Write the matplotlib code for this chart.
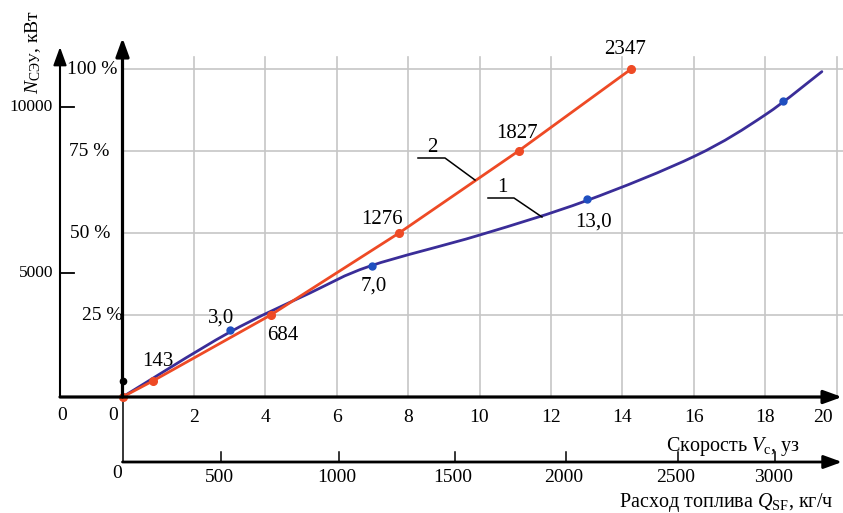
import matplotlib
matplotlib.use("Agg")
import matplotlib.pyplot as plt
from matplotlib.path import Path
from matplotlib.patches import PathPatch

plt.rcParams['font.family'] = ['Liberation Serif', 'DejaVu Serif']
plt.rcParams['mathtext.fontset'] = 'custom'
plt.rcParams['mathtext.rm'] = 'Liberation Serif'
plt.rcParams['mathtext.it'] = 'Liberation Serif:italic'
plt.rcParams['mathtext.bf'] = 'Liberation Serif:bold'

# ---------------- data ----------------
speed_ticks = [2, 4, 6, 8, 10, 12, 14, 16, 18, 20]
load_levels = [25, 50, 75, 100]
load_labels = ['25 %', '50 %', '75 %', '100 %']
kw_ticks = [5000, 10000]
fuel_ticks = [0, 500, 1000, 1500, 2000, 2500, 3000]
fuel_tick_speed = [0, 2.76, 6.06, 9.31, 12.42, 15.56, 18.28]   # where each fuel tick sits on the speed scale

# curve 1: load (%) vs speed (knots)
curve1_speed = [0, 2.96, 5.25, 6.93, 10.01, 12.98, 16.04, 18.0, 19.59]
curve1_load = [0, 19.5, 31.7, 39.9, 49.4, 59.8, 73.5, 86.0, 99.2]
points1_speed = [3.0, 7.0, 13.0, 18.5]
points1_load = [20.4, 40.0, 60.4, 90.3]
points1_labels = ['3,0', '7,0', '13,0', '']

# curve 2: load (%) vs fuel consumption (kg/h)
curve2_fuel = [0, 143, 684, 1276, 1827, 2347]
curve2_load = [0, 5, 25, 50, 75, 100]
curve2_labels = ['', '143', '684', '1276', '1827', '2347']

# ---------------- scales ----------------
FUEL_TO_KN = 14.25 / 2347.0          # fuel (kg/h) -> position on speed scale
KW_AT_ZERO = 1265.0                  # kW value at the 0 % line
KW_PER_PCT = 98.8                    # kW per 1 %
PX_PER_KN = 35.7
PX_PER_PCT = 3.28

def px_x(dx):
    return dx / PX_PER_KN

def px_y(dy):
    return dy / PX_PER_PCT

RED = '#ee4a25'
BLUE = '#3a2d98'
BLUE_DOT = '#1f4fc0'
GRID = '#c6c6c6'

fig = plt.figure(figsize=(8.43, 5.13), dpi=100)
ax = fig.add_axes([0, 0, 1, 1])
ax.set_xlim(-122.5 / PX_PER_KN, (843 - 122.5) / PX_PER_KN)
ax.set_ylim((397 - 513) / PX_PER_PCT, 397 / PX_PER_PCT)
ax.axis('off')

x_outer = -px_x(62.5)
x_right = (843 - 122.5) / PX_PER_KN
y_fuel = -px_y(65)

# grid
for s in speed_ticks:
    ax.plot([s, s], [0, px_y(340)], color=GRID, lw=1.2, zorder=1)
for lv in load_levels:
    ax.plot([0, x_right], [lv, lv], color=GRID, lw=1.2, zorder=1)

# axes with arrows
def arrow(x0, y0, x1, y1, lw):
    ax.annotate('', xy=(x1, y1), xytext=(x0, y0),
                arrowprops=dict(arrowstyle='-|>,head_length=0.55,head_width=0.2',
                                lw=lw, color='black', shrinkA=0, shrinkB=0,
                                mutation_scale=20), zorder=5)

arrow(0, 0, 0, px_y(359), 2.3)                 # main vertical
arrow(x_outer, 0, x_outer, px_y(350), 1.5)     # outer kW axis
arrow(x_outer, 0, x_right - px_x(1), 0, 2.3)   # speed axis
arrow(0, y_fuel, x_right - px_x(1), y_fuel, 2.0)  # fuel axis
ax.plot([0, 0], [y_fuel, 0], color='black', lw=1.1, zorder=4)

# speed tick labels
ty = -px_y(21)
for s in speed_ticks:
    if s == 20:
        ax.text(s - px_x(4), ty, str(s), ha='right', va='center', fontsize=14)
    else:
        ax.text(s, ty, str(s), ha='center', va='center', fontsize=14)
ax.text(-px_x(9), ty + px_y(3), '0', ha='center', va='center', fontsize=14)
ax.text(x_outer + px_x(2), ty + px_y(3), '0', ha='center', va='center', fontsize=14)

# fuel ticks
for f, pos in zip(fuel_ticks, fuel_tick_speed):
    if f != 0:
        ax.plot([pos, pos], [y_fuel, y_fuel + px_y(10)], color='black', lw=1.1, zorder=4)
        ax.text(pos - px_x(2), y_fuel - px_y(15), str(f), ha='center', va='center', fontsize=14)
    else:
        ax.text(pos - px_x(5), y_fuel - px_y(12), str(f), ha='center', va='center', fontsize=14)

# load labels
load_dx = {25: 0.0, 50: 12, 75: 13, 100: 5}
for lv, lab in zip(load_levels, load_labels):
    ax.text(-px_x(load_dx[lv]), lv, lab, ha='right', va='center', fontsize=14, zorder=6)

# kW ticks on the outer axis
for kw in kw_ticks:
    yy = (kw - KW_AT_ZERO) / KW_PER_PCT
    ax.plot([x_outer, x_outer + px_x(14)], [yy, yy], color='black', lw=1.3, zorder=4)
    ax.text(x_outer - px_x(7), yy, str(kw), ha='right', va='center', fontsize=12.5)

# axis titles
ax.text(x_outer - px_x(27), px_y(345), r'$N_{\mathrm{СЭУ}}$, кВт', rotation=90,
        ha='center', va='center', fontsize=14)
ax.text(px_x(800 - 122.5), -px_y(50), r'Скорость $V_{\mathrm{с}}$, уз',
        ha='right', va='center', fontsize=14.5)
ax.text(px_x(833 - 122.5), -px_y(106), r'Расход топлива $Q_{\mathrm{SF}}$, кг/ч',
        ha='right', va='center', fontsize=14.5)

# curve 1 drawn as a smooth Bezier path through the traced points
def smooth_path(xs, ys):
    pts = list(zip(xs, ys))
    verts = [pts[0]]
    codes = [Path.MOVETO]
    n = len(pts)
    for i in range(n - 1):
        p0 = pts[i - 1] if i > 0 else pts[i]
        p1 = pts[i]
        p2 = pts[i + 1]
        p3 = pts[i + 2] if i + 2 < n else pts[i + 1]
        c1 = (p1[0] + (p2[0] - p0[0]) / 6.0, p1[1] + (p2[1] - p0[1]) / 6.0)
        c2 = (p2[0] - (p3[0] - p1[0]) / 6.0, p2[1] - (p3[1] - p1[1]) / 6.0)
        verts += [c1, c2, p2]
        codes += [Path.CURVE4] * 3
    return Path(verts, codes)

ax.add_patch(PathPatch(smooth_path(curve1_speed, curve1_load), fill=False,
                       edgecolor=BLUE, lw=2.0, zorder=3, capstyle='round'))

c2x = [f * FUEL_TO_KN for f in curve2_fuel]
ax.plot(c2x, curve2_load, color=RED, lw=2.0, zorder=3)
ax.plot(c2x, curve2_load, 'o', color=RED, ms=5.5, zorder=4)
ax.plot(points1_speed, points1_load, 'o', color=BLUE_DOT, ms=5, zorder=4)
ax.plot([0], [px_y(16)], 'o', color='black', ms=4.5, zorder=6)

# point labels (offsets in pixels)
c2_off = [(0, 0), (4, 19), (12, -21), (-17, 14), (-2, 17), (-6, 19)]
for x, y, lab, off in zip(c2x, curve2_load, curve2_labels, c2_off):
    if lab:
        ax.annotate(lab, (x, y), xytext=off, textcoords='offset pixels',
                    ha='center', va='center', fontsize=15, zorder=7)
c1_off = [(-9, 12), (1, -20), (7, -23), (0, 0)]
for x, y, lab, off in zip(points1_speed, points1_load, points1_labels, c1_off):
    if lab:
        ax.annotate(lab, (x, y), xytext=off, textcoords='offset pixels',
                    ha='center', va='center', fontsize=15, zorder=7)

# leader labels "1" and "2"
def leader(label, ux0, ux1, uy, ex, ey):
    X = lambda p: px_x(p - 122.5)
    Y = lambda p: px_y(397 - p)
    ax.plot([X(ux0), X(ux1), X(ex)], [Y(uy), Y(uy), Y(ey)], color='black', lw=1.1, zorder=5)
    ax.text(X((ux0 + ux1) / 2 + 1), Y(uy - 1), label, ha='center', va='bottom', fontsize=15, zorder=7)

leader('2', 418, 445, 158, 475, 180)
leader('1', 488, 514, 198, 542, 217)

fig.savefig('out.png', dpi=100)
